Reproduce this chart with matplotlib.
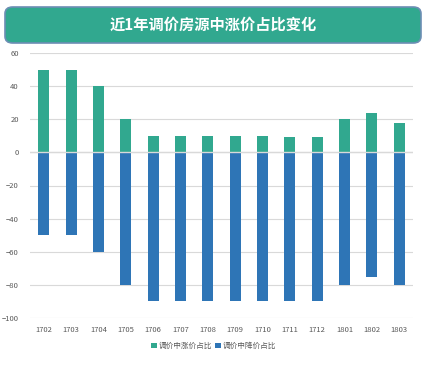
import matplotlib.pyplot as plt
from matplotlib.patches import FancyBboxPatch
import numpy as np

plt.rcParams['font.family'] = ['Noto Sans CJK SC', 'DejaVu Sans']

months = ['1702', '1703', '1704', '1705', '1706', '1707', '1708',
          '1709', '1710', '1711', '1712', '1801', '1802', '1803']
up_share = [50, 50, 40, 20, 10, 10, 10, 10, 10, 9, 9, 20, 24, 18]
down_share = [-50, -50, -60, -80, -90, -90, -90, -90, -90, -90, -90, -80, -75, -80]
series_names = ['调价中涨价占比', '调价中降价占比']
title = '近1年调价房源中涨价占比变化'

W, H = 429, 366
fig = plt.figure(figsize=(W / 100, H / 100), dpi=100)

# title banner
box = FancyBboxPatch((5 / W, 1 - 43 / H), 416 / W, 36 / H,
                     boxstyle='round,pad=0,rounding_size=0.018',
                     transform=fig.transFigure, facecolor='#31A88F',
                     edgecolor='#6C8EB4', linewidth=1.2, zorder=2)
fig.patches.append(box)
fig.text(213 / W, 1 - 25 / H, title, ha='center', va='center',
         color='white', fontsize=11, fontweight='bold')

ax = fig.add_axes([30 / W, 1 - 318 / H, 383 / W, 265 / H])
x = np.arange(len(months))
ax.bar(x, up_share, width=0.4, color='#31A88F', label=series_names[0], zorder=2)
ax.bar(x, down_share, width=0.4, color='#2E75B6', label=series_names[1], zorder=2)
ax.axhline(0, color='#D9D9D9', lw=1, zorder=3)

ax.set_xlim(-0.5, len(months) - 0.5)
ax.set_ylim(-100, 60)
ax.set_yticks(range(-100, 61, 20))
ax.set_xticks(x)
ax.set_xticklabels(months)
ax.grid(axis='y', color='#D9D9D9', lw=0.8, zorder=0)
ax.set_axisbelow(True)
for s in ax.spines.values():
    s.set_visible(False)
ax.tick_params(length=0, labelsize=5.5, labelcolor='#595959')
ax.tick_params(axis='x', pad=6)
ax.tick_params(axis='y', pad=8)

ax.legend(loc='upper center', bbox_to_anchor=(0.48, -0.065), ncol=2,
          frameon=False, fontsize=5.5, handlelength=0.7, handleheight=0.7,
          handletextpad=0.3, columnspacing=0.4, labelcolor='#595959')

fig.savefig('out.png', dpi=100)
